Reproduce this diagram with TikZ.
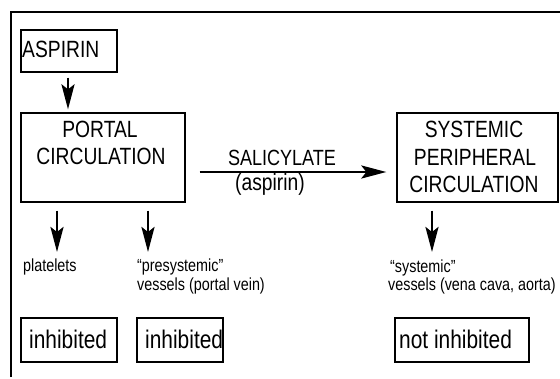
\documentclass[tikz,border=0pt]{standalone}
\usepackage{fontspec}
\setmainfont{Liberation Sans}[FakeStretch=0.82]
\usetikzlibrary{arrows.meta}
\begin{document}
\begin{tikzpicture}[x=1pt,y=-1pt,
 box/.style={draw, line width=1.3pt, inner sep=0pt, rectangle},
 big/.style={font=\fontsize{23.5}{27}\selectfont, inner sep=0pt, anchor=base},
 bigw/.style={big, anchor=base west},
 small/.style={font=\fontsize{17.5}{19}\selectfont, inner sep=0pt, anchor=base west},
 res/.style={font=\fontsize{25.5}{28}\selectfont, inner sep=0pt, anchor=base west},
 arr/.style={line width=2.8pt, -{Stealth[length=25pt,width=13pt,inset=5pt]}},
]
\useasboundingbox (0,0) rectangle (560,378);
% open frame
\coordinate (fb) at (11,377);
\coordinate (ftl) at (11,12);
\coordinate (fr) at (561,12);
\draw[line width=1.5pt] (fb) -- (ftl) -- (fr);

% boxes
\node[box, minimum width=96pt, minimum height=42pt] (aspirin) at (69,51) {};
\node[box, minimum width=164pt, minimum height=89pt] (portal) at (103,157.5) {};
\node[box, minimum width=161pt, minimum height=89pt] (systemic) at (477.5,157.5) {};
\node[box, minimum width=96pt, minimum height=44pt] (inh1) at (69,340) {};
\node[box, minimum width=86pt, minimum height=44pt] (inh2) at (180,340) {};
\node[box, minimum width=134pt, minimum height=44pt] (inh3) at (462,340) {};

% texts
\node[bigw] (aspt) at (22,57) {ASPIRIN};
\node[big] (portal1) at (100,137) {PORTAL};
\node[big] (portal2) at (101,164) {CIRCULATION};
\node[big, font=\fontsize{22}{26}\selectfont] (sal) at (282,165) {SALICYLATE};
\node[big] (asp) at (270,190) {(aspirin)};
\node[big] (sys1) at (474,137) {SYSTEMIC};
\node[big] (sys2) at (475,165) {PERIPHERAL};
\node[big] (sys3) at (474,192) {CIRCULATION};
\node[small] (plat) at (23,271) {platelets};
\node[small] (pre1) at (137,271) {“presystemic”};
\node[small] (pre2) at (137,290) {vessels (portal vein)};
\node[small] (sy1) at (390,272) {“systemic”};
\node[small] (sy2) at (388,290) {vessels (vena cava, aorta)};
\node[res] (in1t) at (29,348) {inhibited};
\node[res] (in2t) at (145,348) {inhibited};
\node[res] (in3t) at (399,348) {not inhibited};

% arrows
\draw[arr, shorten <=5pt, shorten >=3pt] ([xshift=-1pt]aspirin.south) -- ([xshift=-1pt]aspirin.south |- portal.north);
\draw[arr, shorten <=14pt, shorten >=10pt] ([yshift=-14.5pt]portal.east) -- ([yshift=-14.5pt]systemic.west);
\coordinate (t1) at (57,252);
\coordinate (t2) at (148,252);
\coordinate (t3) at (432,252);
\draw[arr, shorten <=8pt] (portal.south -| t1) -- (t1);
\draw[arr, shorten <=8pt] (portal.south -| t2) -- (t2);
\draw[arr, shorten <=8pt] (systemic.south -| t3) -- (t3);
\end{tikzpicture}
\end{document}
